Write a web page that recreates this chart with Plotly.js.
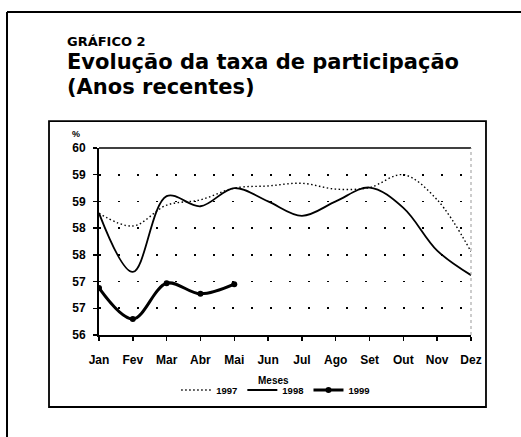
<!DOCTYPE html>
<html>
<head>
<meta charset="utf-8">
<script src="https://cdn.plot.ly/plotly-3.0.1.min.js"></script>
<style>html,body{margin:0;padding:0;background:#fff;}#chart{width:521px;height:437px;}</style>
</head>
<body>
<div id="chart"></div>
<script>
const months = ['Jan','Fev','Mar','Abr','Mai','Jun','Jul','Ago','Set','Out','Nov','Dez'];
const y1997 = [58.28, 58.04, 58.43, 58.53, 58.75, 58.79, 58.84, 58.73, 58.76, 59.00, 58.53, 57.56];
const y1998 = [58.28, 57.18, 58.60, 58.41, 58.75, 58.50, 58.23, 58.50, 58.76, 58.38, 57.58, 57.12];
const y1999 = [56.88, 56.30, 56.97, 56.77, 56.95];
const months1999 = months.slice(0, 5);
const yTickVals = [56, 56.5, 57, 57.5, 58, 58.5, 59, 59.5];
const yTickText = ['56', '57', '57', '58', '58', '59', '59', '60'];
const seriesNames = ['1997', '1998', '1999'];

const FONT = 'Liberation Sans, Arial, Helvetica, sans-serif';
const TFONT = 'DejaVu Sans, Liberation Sans, Arial, sans-serif';

const traces = [
  {x: months, y: y1997, name: seriesNames[0], type: 'scatter', mode: 'lines',
   line: {color: '#000', width: 1.4, dash: '1.5px,2.5px', shape: 'spline', smoothing: 1}},
  {x: months, y: y1998, name: seriesNames[1], type: 'scatter', mode: 'lines',
   line: {color: '#000', width: 1.8, shape: 'spline', smoothing: 1}},
  {x: months1999, y: y1999, name: seriesNames[2], type: 'scatter', mode: 'lines+markers',
   line: {color: '#000', width: 3, shape: 'spline', smoothing: 1},
   marker: {color: '#000', size: 6, symbol: 'circle'}}
];

const layout = {
  width: 521, height: 437,
  margin: {l: 99, r: 50, t: 148, b: 102, pad: 0},
  paper_bgcolor: '#fff', plot_bgcolor: '#fff',
  font: {family: FONT, color: '#000'},
  showlegend: true,
  legend: {orientation: 'h', x: 0.475, xanchor: 'center', y: -0.294, yanchor: 'middle',
           font: {family: FONT, size: 9.5, weight: 'bold', color: '#000'},
           bgcolor: 'rgba(0,0,0,0)', itemwidth: 30, tracegroupgap: 0, itemclick: false},
  xaxis: {type: 'category', categoryorder: 'array', categoryarray: months,
          range: [0, 11], showgrid: false, zeroline: false,
          showline: true, linecolor: '#000', linewidth: 2,
          ticks: 'outside', ticklen: 4, tickwidth: 1.5, tickcolor: '#000',
          ticklabelstandoff: 9,
          tickfont: {family: FONT, size: 12, weight: 'bold', color: '#000'}},
  yaxis: {range: [56, 59.5], tickvals: yTickVals, ticktext: yTickText,
          showgrid: true, gridcolor: '#000', gridwidth: 1.6, griddash: '2px,17px',
          zeroline: false, showline: true, linecolor: '#000', linewidth: 2,
          ticks: 'outside', ticklen: 4, tickwidth: 1.5, tickcolor: '#000',
          ticklabelstandoff: 5,
          tickfont: {family: FONT, size: 12, weight: 'bold', color: '#000'}},
  annotations: [
    {text: 'GRÁFICO 2', xref: 'paper', yref: 'paper', x: -0.088, y: 1.5695,
     xanchor: 'left', yanchor: 'middle', showarrow: false, borderpad: 0,
     font: {family: TFONT, size: 13, weight: 'bold', color: '#000'}},
    {text: 'Evolução da taxa de participação', xref: 'paper', yref: 'paper', x: -0.088, y: 1.4612,
     xanchor: 'left', yanchor: 'middle', showarrow: false, borderpad: 0,
     font: {family: TFONT, size: 21, weight: 'bold', color: '#000'}},
    {text: '(Anos recentes)', xref: 'paper', yref: 'paper', x: -0.088, y: 1.3249,
     xanchor: 'left', yanchor: 'middle', showarrow: false, borderpad: 0,
     font: {family: TFONT, size: 21, weight: 'bold', color: '#000'}},
    {text: '%', xref: 'paper', yref: 'paper', x: -0.062, y: 1.075,
     xanchor: 'center', yanchor: 'middle', showarrow: false, borderpad: 0,
     font: {family: FONT, size: 9, weight: 'bold', color: '#000'}},
    {text: 'Meses', xref: 'paper', yref: 'paper', x: 0.47, y: -0.241,
     xanchor: 'center', yanchor: 'middle', showarrow: false, borderpad: 0,
     font: {family: FONT, size: 10, weight: 'bold', color: '#000'}}
  ],
  shapes: [
    {type: 'line', xref: 'paper', yref: 'paper', x0: -0.2473, x1: -0.2473, y0: -0.6, y1: 1.727,
     line: {color: '#000', width: 2}},
    {type: 'line', xref: 'paper', yref: 'paper', x0: -0.2473, x1: 1.2, y0: 1.727, y1: 1.727,
     line: {color: '#000', width: 2}},
    {type: 'rect', xref: 'paper', yref: 'paper', x0: -0.1344, x1: 1.0403, y0: -0.385, y1: 1.144,
     line: {color: '#000', width: 1.8}},
    {type: 'line', xref: 'paper', yref: 'paper', x0: 0, x1: 1, y0: 1, y1: 1,
     line: {color: '#000', width: 1.6}},
    {type: 'line', xref: 'paper', yref: 'paper', x0: 1, x1: 1, y0: 0, y1: 1,
     line: {color: '#999', width: 1, dash: 'dot'}}
  ]
};

Plotly.newPlot('chart', traces, layout, {displayModeBar: false, staticPlot: true});
</script>
</body>
</html>
